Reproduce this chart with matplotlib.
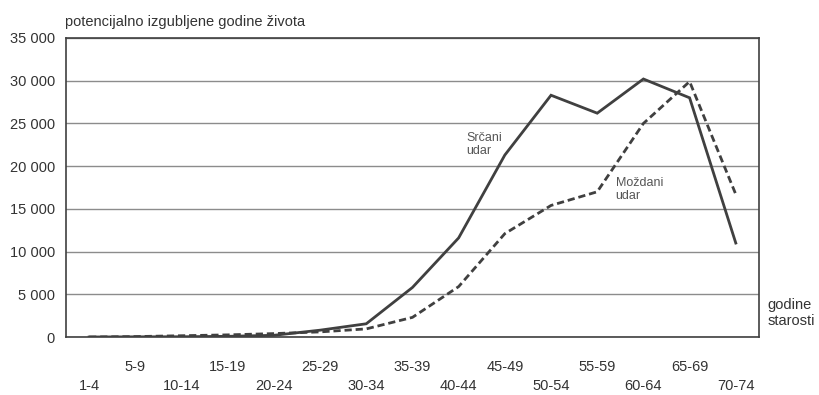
import matplotlib.pyplot as plt
import matplotlib.transforms as mtransforms

plt.rcParams['font.family'] = ['Liberation Sans', 'DejaVu Sans']

# dobne skupine
categories = ['1-4', '5-9', '10-14', '15-19', '20-24', '25-29', '30-34', '35-39',
              '40-44', '45-49', '50-54', '55-59', '60-64', '65-69', '70-74']

# potencijalno izgubljene godine zivota
srcani = [0, 20, 30, 80, 200, 800, 1550, 5800, 11600, 21300, 28300, 26200, 30200, 28000, 11000]
mozdani = [0, 50, 150, 250, 400, 600, 950, 2300, 5900, 12100, 15400, 17000, 25000, 29900, 16700]

y_ticks = [0, 5000, 10000, 15000, 20000, 25000, 30000, 35000]
y_labels = ['0', '5 000', '10 000', '15 000', '20 000', '25 000', '30 000', '35 000']

line_col = '#404040'
text_col = '#333333'

fig = plt.figure(figsize=(8.19, 3.95), dpi=100)
ax = fig.add_axes([0.0806, 0.1468, 0.846, 0.757])

x = list(range(len(categories)))
ax.plot(x, srcani, color=line_col, lw=2.0, solid_joinstyle='miter', zorder=3)
ax.plot(x, mozdani, color=line_col, lw=2.0, linestyle=(0, (2.6, 1.4)), zorder=3)

ax.set_xlim(-0.5, len(categories) - 0.5)
ax.set_ylim(0, 35000)
ax.set_yticks(y_ticks)
ax.set_yticklabels(y_labels, fontsize=10.5, color=text_col)
ax.tick_params(axis='y', length=0, pad=8)
ax.set_xticks([])
ax.yaxis.grid(True, color='#8c8c8c', lw=1.0)
ax.set_axisbelow(True)
for s in ax.spines.values():
    s.set_color(line_col)
    s.set_linewidth(1.2)

# x oznake u dva reda
trans = mtransforms.blended_transform_factory(ax.transData, ax.transAxes)
for i, lab in enumerate(categories):
    yy = -0.10 if i % 2 == 1 else -0.165
    ax.text(i, yy, lab, transform=trans, ha='center', va='center',
            fontsize=10.5, color=text_col)

ax.text(-0.002, 1.055, 'potencijalno izgubljene godine života', transform=ax.transAxes,
        ha='left', va='center', fontsize=10.5, color=text_col)
ax.text(1.012, 0.08, 'godine\nstarosti', transform=ax.transAxes,
        ha='left', va='center', fontsize=10.5, color=text_col, linespacing=1.15)

ax.text(8.16, 22500, 'Srčani\nudar', ha='left', va='center', fontsize=9,
        color='#555555', linespacing=1.1)
ax.text(11.4, 17300, 'Moždani\nudar', ha='left', va='center', fontsize=9,
        color='#555555', linespacing=1.1)

fig.savefig('out.png', dpi=100)
